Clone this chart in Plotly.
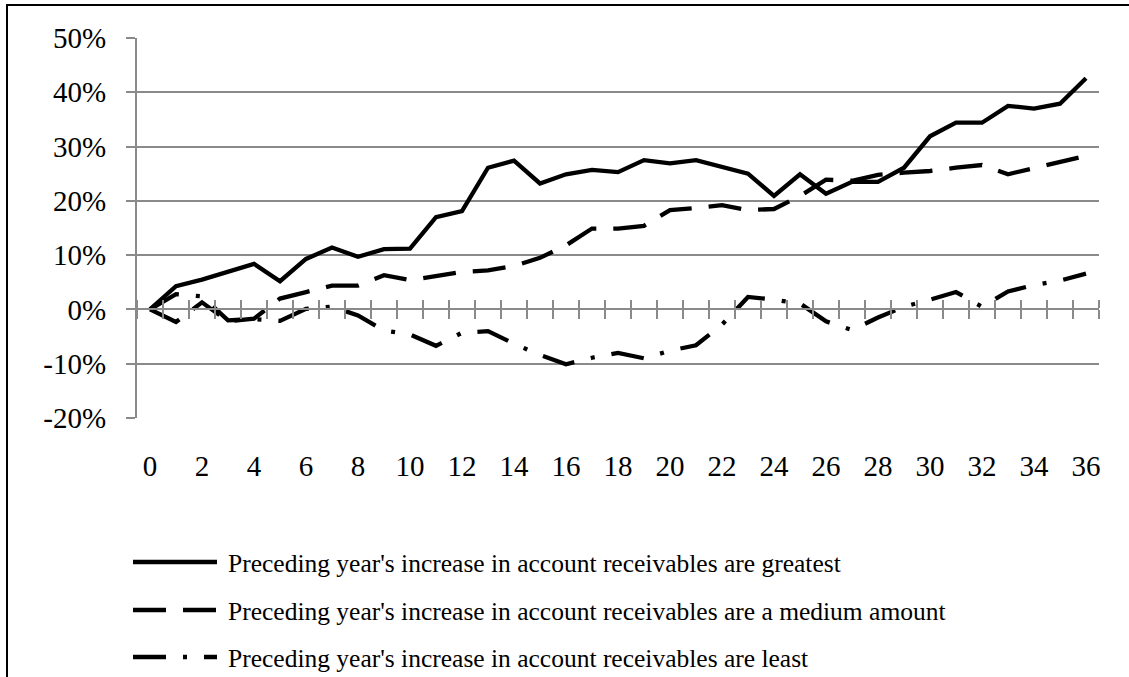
import plotly.graph_objects as go

# ---------------- data ----------------
periods = list(range(0, 37))
x_tick_vals = list(range(0, 37, 2))
x_tick_text = [str(v) for v in x_tick_vals]
y_tick_vals = [-20, -10, 0, 10, 20, 30, 40, 50]
y_tick_text = ["-20%", "-10%", "0%", "10%", "20%", "30%", "40%", "50%"]

greatest = [0, 4.3, 5.5, 6.9, 8.4, 5.2, 9.3, 11.4, 9.7, 11.1, 11.2, 17.0, 18.1, 26.1, 27.4,
            23.2, 24.9, 25.7, 25.3, 27.5, 26.9, 27.5, 26.3, 25.0, 20.9, 24.9, 21.3, 23.5,
            23.5, 26.1, 31.9, 34.4, 34.4, 37.5, 37.0, 37.9, 42.6]
medium = [0, -2.3, 1.3, -2.2, -1.7, 2.0, 3.2, 4.4, 4.4, 6.3, 5.4, 6.2, 6.9, 7.2, 8.0,
          9.5, 11.8, 14.9, 14.9, 15.4, 18.3, 18.7, 19.2, 18.3, 18.5, 20.9, 23.9, 23.7,
          24.8, 25.2, 25.5, 26.1, 26.6, 24.9, 26.0, 27.0, 28.3]
least = [0, 2.8, 2.4, -2.0, -1.8, -2.1, 0.1, 0.5, -1.1, -3.9, -4.6, -6.7, -4.3, -4.0, -6.3,
         -8.4, -10.1, -8.9, -8.0, -9.0, -7.6, -6.6, -2.8, 2.3, 1.8, 1.1, -2.2, -3.8,
         -1.5, 0.5, 1.8, 3.2, 0.5, 3.3, 4.5, 5.3, 6.6]

series_names = [
    "Preceding year's increase in account receivables are greatest",
    "Preceding year's increase in account receivables are a medium amount",
    "Preceding year's increase in account receivables are least",
]

# ---------------- styles ----------------
FONT = "Liberation Serif, Times New Roman, serif"
GRID = "#8a8a8a"
DASH_MED = "33px,17px"
DASH_DOT = "33px,17px,4px,17px"
LW = 4.3

W, H = 1129, 677
# plot area in page pixels
PL, PR, PT, PB = 137, 1099, 38, 418


def px_x(px):
    return (px - PL) / (PR - PL)


def px_y(py):
    return (PB - py) / (PB - PT)


fig = go.Figure()
fig.add_trace(go.Scatter(x=periods, y=least, mode="lines", name=series_names[2], xaxis="x",
                         line=dict(color="black", width=LW, dash=DASH_DOT), hoverinfo="skip"))
fig.add_trace(go.Scatter(x=periods, y=medium, mode="lines", name=series_names[1], xaxis="x3",
                         line=dict(color="black", width=LW, dash=DASH_MED), hoverinfo="skip"))
fig.add_trace(go.Scatter(x=periods, y=greatest, mode="lines", name=series_names[0], xaxis="x2",
                         line=dict(color="black", width=LW), hoverinfo="skip"))

xr = [-0.5, 36.5]
zero_pos = (0 - (-20)) / (50 - (-20))
boundary_ticks = [v + 0.5 for v in range(-1, 37)]

fig.update_layout(
    width=W, height=H, autosize=False,
    margin=dict(l=PL, r=W - PR, t=PT, b=H - PB, pad=0),
    paper_bgcolor="white", plot_bgcolor="white",
    showlegend=False,
    hovermode=False,
    font=dict(family=FONT, color="black"),
    xaxis=dict(range=xr, tickmode="array", tickvals=x_tick_vals, ticktext=x_tick_text,
               showgrid=False, zeroline=False, showline=False, ticks="",
               ticklabelstandoff=28, tickfont=dict(size=29, family=FONT, color="black")),
    xaxis2=dict(range=xr, overlaying="x", anchor="free", position=zero_pos, side="bottom",
                tickmode="array", tickvals=boundary_ticks, showticklabels=False,
                ticks="outside", ticklen=9, tickwidth=2, tickcolor=GRID,
                showline=True, linecolor=GRID, linewidth=2, showgrid=False, zeroline=False),
    xaxis3=dict(range=xr, overlaying="x", anchor="free", position=zero_pos, side="top",
                tickmode="array", tickvals=boundary_ticks, showticklabels=False,
                ticks="outside", ticklen=8, tickwidth=2, tickcolor=GRID,
                showline=True, linecolor=GRID, linewidth=2, showgrid=False, zeroline=False),
    yaxis=dict(range=[-20, 50], tickmode="array", tickvals=y_tick_vals, ticktext=y_tick_text,
               showgrid=True, gridcolor=GRID, gridwidth=2, zeroline=False,
               showline=True, linecolor=GRID, linewidth=2,
               ticks="outside", ticklen=9, tickwidth=2, tickcolor=GRID,
               ticklabelstandoff=14, tickfont=dict(size=29, family=FONT, color="black")),
)

# outer chart border (continues past the right and bottom of the window)
fig.add_shape(type="rect", xref="paper", yref="paper",
              x0=px_x(7), x1=px_x(1145), y0=px_y(700), y1=px_y(5),
              line=dict(color="black", width=2), fillcolor="rgba(0,0,0,0)", layer="above")

# legend drawn by hand so the line samples are as long as in the original
legend_rows = [562, 610, 657]
legend_dashes = ["solid", DASH_MED, DASH_DOT]
for row_y, dsh, name in zip(legend_rows, legend_dashes, series_names):
    fig.add_shape(type="line", xref="paper", yref="paper",
                  x0=px_x(133), x1=px_x(217), y0=px_y(row_y), y1=px_y(row_y),
                  line=dict(color="black", width=LW, dash=dsh))
    fig.add_annotation(xref="paper", yref="paper", x=px_x(226), y=px_y(row_y + 1),
                       xanchor="left", yanchor="middle", showarrow=False, text=name,
                       font=dict(size=25.5, family=FONT, color="black"))

# remove the default 8px body margin so the figure starts at the window corner
fig.write_html("out.html", config={"displayModeBar": False, "staticPlot": True},
               post_script="document.body.style.margin='0px';")
